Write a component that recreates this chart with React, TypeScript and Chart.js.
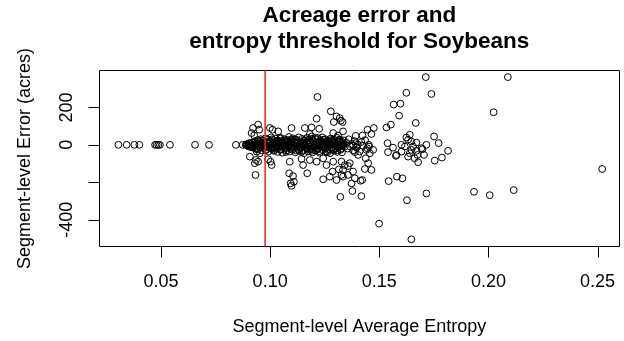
import React, { useEffect, useRef } from 'react';
import { Chart, registerables } from 'chart.js';

Chart.register(...registerables);

const titleLines = ['Acreage error and', 'entropy threshold for Soybeans'];
const xTitle = 'Segment-level Average Entropy';
const yTitle = 'Segment-level Error (acres)';
const xTicks = [0.05, 0.1, 0.15, 0.2, 0.25];
const xTickLabels = ['0.05', '0.10', '0.15', '0.20', '0.25'];
const yTicks = [-400, -200, 0, 200];
const yTickLabels = ['-400', '', '0', '200'];
const threshold = 0.0977;
const xRange = [0.0216, 0.2601];
const yRange = [-546, 400];

// low-entropy segments sitting on zero error
const entropyLeft = [0.0305, 0.0343, 0.0378, 0.0401, 0.0473, 0.0480, 0.0488, 0.0495, 0.0541, 0.0656, 0.0720, 0.0843, 0.0874];
const errorLeft = [0, 0, 0, 0, 0, 0, 0, 0, 0, 0, 0, 0, 0];

// scattered points around the dense band
const entropyMid = [
  0.0945, 0.0922, 0.0950, 0.0927, 0.0915, 0.0938, 0.0953, 0.0907, 0.0935, 0.0945,
  0.0930, 0.0933, 0.0999, 0.1007, 0.0991, 0.1002, 0.1217, 0.1213, 0.1278, 0.1304,
  0.1319, 0.1292, 0.1324, 0.1098, 0.1159, 0.1190, 0.1225, 0.1182, 0.1289, 0.1311,
  0.1011, 0.1037, 0.1087, 0.1105, 0.1109, 0.1098, 0.1094, 0.1170, 0.1243, 0.1273,
  0.1286, 0.1315, 0.1327, 0.1304, 0.1322, 0.1090, 0.1144, 0.1182, 0.1213, 0.1243,
  0.1289, 0.1258, 0.1151, 0.1334, 0.1334, 0.1357, 0.1422,
];
const errorMid = [
  108, 90, 81, 50, 63, -36, -45, -63, -81, -90,
  -98, -161, 90, -108, -77, -90, 256, 140, 179, 152,
  143, 122, 129, 90, 90, 93, 86, 58, 63, 50,
  81, 72, -152, -167, -197, -219, -206, -152, -184, -170,
  -143, -131, -161, -188, -278, -90, -75, -81, -90, -72,
  -90, -108, -108, 72, -170, -113, -188,
];

const entropyRight = [
  0.1624, 0.1566, 0.1597, 0.1591, 0.1533, 0.1553, 0.1667, 0.1446, 0.1475, 0.1464,
  0.1423, 0.1392, 0.1332, 0.1640, 0.1624, 0.1647, 0.1538, 0.1563, 0.1540, 0.1579,
  0.1602, 0.1617, 0.1647, 0.1632, 0.1662, 0.1670, 0.1602, 0.1640, 0.1655, 0.1380,
  0.1396, 0.1388, 0.1403, 0.1392, 0.1441, 0.1457, 0.1438, 0.1449, 0.1464, 0.1434,
  0.1472, 0.1453, 0.1327, 0.1342, 0.1365, 0.1334, 0.1357, 0.1380, 0.1388, 0.1373,
  0.1377, 0.1414, 0.1418, 0.1543, 0.1581, 0.1606, 0.1627, 0.1499, 0.1647, 0.1576,
  0.1698, 0.1670, 0.1632,
];
const errorRight = [
  278, 215, 220, 156, 93, 108, 117, 81, 90, 58,
  50, 48, 122, 54, 39, 18, 9, -15, -39, -54,
  -36, -9, -27, -63, -72, -32, 0, -45, -9, -4,
  -15, -39, -54, 9, -27, -45, -72, -98, -134, -129,
  -27, -9, -90, -108, -98, -134, -161, -143, -179, -206,
  -247, -192, -274, -194, -170, -179, -296, -421, -505, -59,
  -23, 12, 27,
];

const entropyFar = [0.1713, 0.1739, 0.2024, 0.1751, 0.1772, 0.1716, 0.1693, 0.1815, 0.1787, 0.1754, 0.1705, 0.1675, 0.1678, 0.1716, 0.1934, 0.2006, 0.2089, 0.2521, 0.2116];
const errorFar = [362, 272, 174, 45, 9, 0, -18, -32, -68, -84, -54, -54, -93, -260, -251, -269, 362, -129, -242];

// dense band near zero
const entropyBand = [
  0.0888, 0.0891, 0.0894, 0.0897, 0.0900, 0.0903, 0.0906, 0.0909, 0.0912, 0.0915,
  0.0918, 0.0921, 0.0924, 0.0927, 0.0930, 0.0933, 0.0936, 0.0939, 0.0942, 0.0945,
  0.0948, 0.0951, 0.0954, 0.0957, 0.0960, 0.0963, 0.0966, 0.0969, 0.0972, 0.0975,
  0.0978, 0.0981, 0.0984, 0.0987, 0.0990, 0.0993, 0.0996, 0.0999, 0.1002, 0.1005,
  0.1008, 0.1011, 0.1014, 0.1017, 0.1020, 0.1023, 0.1026, 0.1029, 0.1032, 0.1035,
  0.1038, 0.1041, 0.1044, 0.1047, 0.1050, 0.1053, 0.1056, 0.1059, 0.1062, 0.1065,
  0.1068, 0.1071, 0.1074, 0.1077, 0.1080, 0.1083, 0.1086, 0.1089, 0.1092, 0.1095,
  0.1098, 0.1101, 0.1104, 0.1107, 0.1110, 0.1113, 0.1116, 0.1119, 0.1122, 0.1125,
  0.1128, 0.1131, 0.1134, 0.1137, 0.1140, 0.1143, 0.1146, 0.1149, 0.1152, 0.1155,
  0.1158, 0.1161, 0.1164, 0.1167, 0.1170, 0.1173, 0.1176, 0.1179, 0.1182, 0.1185,
  0.1188, 0.1191, 0.1194, 0.1197, 0.1200, 0.1203, 0.1206, 0.1209, 0.1212, 0.1215,
  0.1218, 0.1221, 0.1224, 0.1227, 0.1230, 0.1233, 0.1236, 0.1239, 0.1242, 0.1245,
  0.1248, 0.1251, 0.1254, 0.1257, 0.1260, 0.1263, 0.1266, 0.1269, 0.1272, 0.1275,
  0.1278, 0.1281, 0.1284, 0.1287, 0.1290, 0.1293, 0.1296, 0.1299, 0.1302, 0.1305,
  0.1308, 0.1311, 0.1314, 0.1317, 0.1320, 0.1323, 0.1326, 0.1329, 0.1332, 0.1335,
  0.1338,
];
const errorBand = [
  0, 3, -4, 2, -8, 6, -2, 10, -12, 4,
  -6, 14, -15, 1, 20, -20, 8, -9, 25, -25,
  3, 15, -12, 30, -5, -30, 10, 22, -18, 0,
  35, -28, 12, -8, 28, -35, 5, 18, -14, 40,
  -22, 2, 25, -32, 10, -5, 33, -18, 15, -38,
  0, 22, -10, 38, -25, 8, -42, 16, -3, 30,
  -20, 12, -30, 4, 26, -12, 42, -36, 6, -8,
  20, -26, 35, 0, -15, 14, -40, 28, -6, 10,
  -22, 40, -32, 2, 18, -12, 32, -28, 8, -45,
  22, -4, 12, -18, 38, -35, 0, 26, -10, 15,
  -24, 45, -40, 6, 20, -14, 30, -30, 10, -2,
  36, -20, 14, -42, 24, 0, -12, 40, -28, 8,
  18, -18, 30, -36, 4, -8, 22, -24, 12, -45,
  34, 0, -15, 16, -30, 26, -6, 8, -20, 38,
  -38, 2, 20, -10, 28, -26, 6, -40, 14, -4,
  24,
];

const entropyBand2 = [
  0.0950, 0.0958, 0.0968, 0.0977, 0.0985, 0.0994, 0.1003, 0.1012, 0.1019, 0.1027,
  0.1036, 0.1045, 0.1052, 0.1061, 0.1069, 0.1078, 0.1087, 0.1096, 0.1105, 0.1114,
  0.1121, 0.1130, 0.1139, 0.1148, 0.1156, 0.1165, 0.1174, 0.1183, 0.1192, 0.1201,
  0.1210, 0.1219, 0.1228, 0.1237, 0.1246, 0.1255, 0.1264, 0.1273, 0.1282, 0.1291,
  0.1300, 0.1309,
];
const errorBand2 = [
  -2, 5, 12, -10, -3, 16, -20, 7, -12, 20,
  -2, -26, 12, 2, -14, 24, -4, 14, -16, 26,
  6, -28, -8, 10, 22, -14, 2, -22, 32, -6,
  4, -24, 18, -8, 10, -34, 16, -2, 20, -22,
  10, -12,
];

const entropyBand3 = [
  0.0902, 0.0910, 0.0919, 0.0928, 0.0937, 0.0946, 0.0955, 0.0964, 0.0973, 0.0982,
  0.0991, 0.1000, 0.1009, 0.1018, 0.1028, 0.1037, 0.1046, 0.1055, 0.1064, 0.1073,
  0.1082, 0.1091, 0.1100, 0.1109, 0.1118, 0.1127, 0.1136, 0.1145, 0.1154, 0.1163,
  0.1172, 0.1181, 0.1190, 0.1199, 0.1208, 0.1217, 0.1226, 0.1235, 0.1244, 0.1253,
  0.1262, 0.1271, 0.1280, 0.1289, 0.1298, 0.1307, 0.1316, 0.1325,
];
const errorBand3 = [
  8, -10, -4, 12, -22, 18, -14, 24, 6, -24,
  14, -18, 30, -28, -10, 18, 34, -4, 24, -38,
  16, -20, 28, 12, -30, 20, -16, -36, 4, 30,
  -26, 14, -32, 20, 38, -18, -34, 6, 28, -12,
  -40, 2, 26, -26, 18, -30, 28, -6,
];

const entropyTail = [0.1350, 0.1355, 0.1360, 0.1366, 0.1372, 0.1380, 0.1386, 0.1395, 0.1402, 0.1410, 0.1418, 0.1425, 0.1435, 0.1445, 0.1452, 0.1319, 0.1332, 0.1342, 0.1327];
const errorTail = [10, -20, 30, -8, 5, -30, 20, -12, 2, -35, 15, -5, 25, -18, 0, 18, 4, -9, -18];

const entropyAll = [...entropyLeft, ...entropyMid, ...entropyRight, ...entropyFar, ...entropyBand, ...entropyBand2, ...entropyBand3, ...entropyTail];
const errorAll = [...errorLeft, ...errorMid, ...errorRight, ...errorFar, ...errorBand, ...errorBand2, ...errorBand3, ...errorTail];

const FONT = '"Liberation Sans", Arial, Helvetica, sans-serif';

const rBasePlugin = {
  id: 'rBase',
  afterDraw(chart: any) {
    const { ctx, chartArea: a, scales } = chart;
    const xs = scales.x;
    const ys = scales.y;
    ctx.save();
    ctx.lineWidth = 1;
    ctx.setLineDash([]);

    // box
    ctx.strokeStyle = '#000000';
    const L = Math.round(a.left) + 0.5;
    const T = Math.round(a.top) + 0.5;
    const R = Math.round(a.right) - 0.5;
    const B = Math.round(a.bottom) - 0.5;
    ctx.beginPath();
    ctx.rect(L, T, R - L, B - T);
    ctx.stroke();

    const tick = 11;
    ctx.beginPath();
    xTicks.forEach((v) => {
      const px = Math.round(xs.getPixelForValue(v)) + 0.5;
      ctx.moveTo(px, B);
      ctx.lineTo(px, B + tick);
    });
    yTicks.forEach((v) => {
      const py = Math.round(ys.getPixelForValue(v)) + 0.5;
      ctx.moveTo(L, py);
      ctx.lineTo(L - tick, py);
    });
    ctx.stroke();

    ctx.fillStyle = '#000000';
    ctx.font = `18px ${FONT}`;
    ctx.textAlign = 'center';
    ctx.textBaseline = 'alphabetic';
    xTicks.forEach((v, i) => {
      ctx.fillText(xTickLabels[i], xs.getPixelForValue(v), 287);
    });
    yTicks.forEach((v, i) => {
      if (!yTickLabels[i]) return;
      ctx.save();
      ctx.translate(72, ys.getPixelForValue(v));
      ctx.rotate(-Math.PI / 2);
      ctx.fillText(yTickLabels[i], 0, 0);
      ctx.restore();
    });

    const cx = (a.left + a.right) / 2;
    const cy = (a.top + a.bottom) / 2;
    ctx.fillText(xTitle, cx, 332);
    ctx.save();
    ctx.translate(30, cy);
    ctx.rotate(-Math.PI / 2);
    ctx.fillText(yTitle, 0, 0);
    ctx.restore();

    ctx.font = `bold 22.5px ${FONT}`;
    ctx.fillText(titleLines[0], cx, 22);
    ctx.fillText(titleLines[1], cx, 48);

    // threshold line (abline, drawn last)
    const tx = xs.getPixelForValue(threshold);
    ctx.strokeStyle = '#ff1a1a';
    ctx.lineWidth = 1.5;
    ctx.beginPath();
    ctx.moveTo(tx, T);
    ctx.lineTo(tx, B);
    ctx.stroke();
    ctx.restore();
  },
};

export default function App() {
  const ref = useRef<HTMLCanvasElement | null>(null);
  useEffect(() => {
    if (!ref.current) return;
    const points = entropyAll.map((x, i) => ({ x, y: errorAll[i] }));
    const chart = new Chart(ref.current, {
      type: 'scatter',
      data: {
        datasets: [
          {
            data: points,
            pointStyle: 'circle',
            pointRadius: 3.4,
            pointHoverRadius: 3.4,
            pointBorderWidth: 1,
            pointBorderColor: '#000',
            pointBackgroundColor: 'rgba(0,0,0,0)',
            showLine: false,
          },
        ],
      },
      options: {
        responsive: false,
        animation: false,
        events: [],
        devicePixelRatio: 1,
        layout: { padding: { left: 99, top: 70, right: 4, bottom: 94 } },
        plugins: { legend: { display: false }, tooltip: { enabled: false }, title: { display: false } },
        scales: {
          x: { type: 'linear', min: xRange[0], max: xRange[1], display: false },
          y: { type: 'linear', min: yRange[0], max: yRange[1], display: false },
        },
      },
      plugins: [rBasePlugin],
    });
    return () => chart.destroy();
  }, []);
  return (
    <div style={{ position: 'absolute', left: 0, top: 0, width: 624, height: 341, background: '#fff' }}>
      <canvas ref={ref} width={624} height={341} style={{ display: 'block' }} />
    </div>
  );
}
